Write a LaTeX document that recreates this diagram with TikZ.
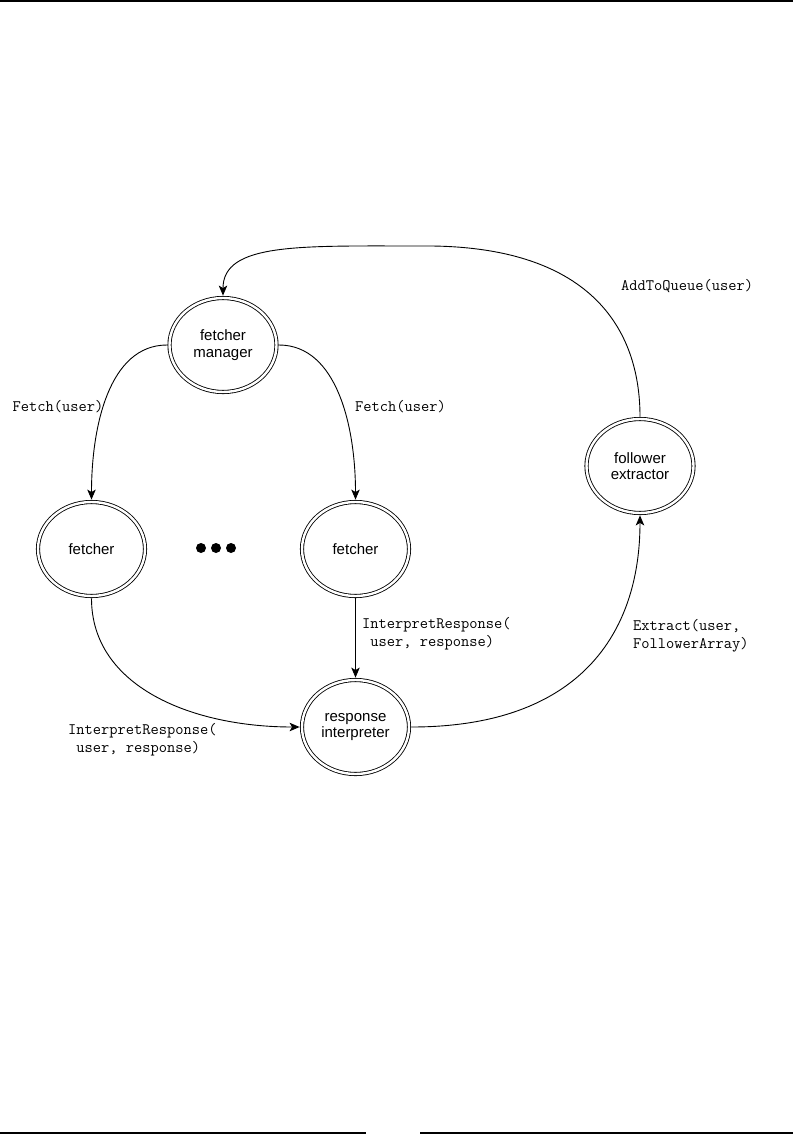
\documentclass[tikz,border=0pt]{standalone}
\usepackage{fontspec}
\setmainfont{Liberation Sans}
\usetikzlibrary{arrows.meta,shapes.geometric,calc}
\begin{document}
\begin{tikzpicture}[x=1pt,y=-1pt,
  state/.style={ellipse, draw, double, double distance=2.4pt, line width=0.85pt,
    minimum width=107pt, minimum height=94pt, inner sep=0pt, align=center,
    font=\fontsize{15}{16.5}\selectfont},
  conn/.style={line width=0.9pt, -{Stealth[length=10pt,width=8.5pt,inset=2.5pt]},
    shorten >=2pt, shorten <=2pt},
  lbl/.style={font=\ttfamily\fontsize{16}{18}\selectfont, align=left, inner sep=0pt},
  rulestyle/.style={line width=1.5pt},
  dot/.style={circle, fill, minimum size=10pt, inner sep=0pt}]
\useasboundingbox (0,0) rectangle (793,1142);

% page rules
\draw[rulestyle] (0,0.8) -- (793,0.8);
\draw[rulestyle] (0,1133) -- (366,1133);
\draw[rulestyle] (420,1133) -- (793,1133);

% states
\node[state] (fm) at (223,345) {fetcher\\manager};
\node[state] (f1) at (91.5,549) {fetcher};
\node[state] (f2) at (355.5,549) {fetcher};
\node[state] (ri) at (355.5,727) {response\\interpreter};
\node[state] (fe) at (640,466) {follower\\extractor};

% ellipsis dots
\node[dot] (d1) at (201,548) {};
\node[dot] (d2) at (216,548) {};
\node[dot] (d3) at (231,548) {};

% connectors
\draw[conn] (fm.west) .. controls +(-60,0) and +(0,-75) .. (f1.north);
\draw[conn] (fm.east) .. controls +(60,0) and +(0,-75) .. (f2.north);
\draw[conn] (f1.south) .. controls +(0,90) and +(-110,0) .. (ri.west);
\draw[conn] (f2.south) -- (ri.north);
\draw[conn] (ri.east) .. controls +(170,0) and +(0,120) .. (fe.south);
\coordinate (peak) at (420,246);
\draw[conn] (fe.north) .. controls +(0,-90) and +(170,-2) .. (peak)
  .. controls +(-120,0) and +(0,-55) .. (fm.north);

% labels
\node[lbl] (l1) at (58,407) {Fetch(user)};
\node[lbl, anchor=west] (l2) at (355,407) {Fetch(user)};
\node[lbl, anchor=west] (l3) at (362,634) {InterpretResponse(\\\hphantom{x}user, response)};
\node[lbl, anchor=west] (l4) at (68,740) {InterpretResponse(\\\hphantom{x}user, response)};
\node[lbl, anchor=west] (l5) at (633,636) {Extract(user,\\FollowerArray)};
\node[lbl, anchor=west] (l6) at (621,286) {AddToQueue(user)};
\end{tikzpicture}
\end{document}
